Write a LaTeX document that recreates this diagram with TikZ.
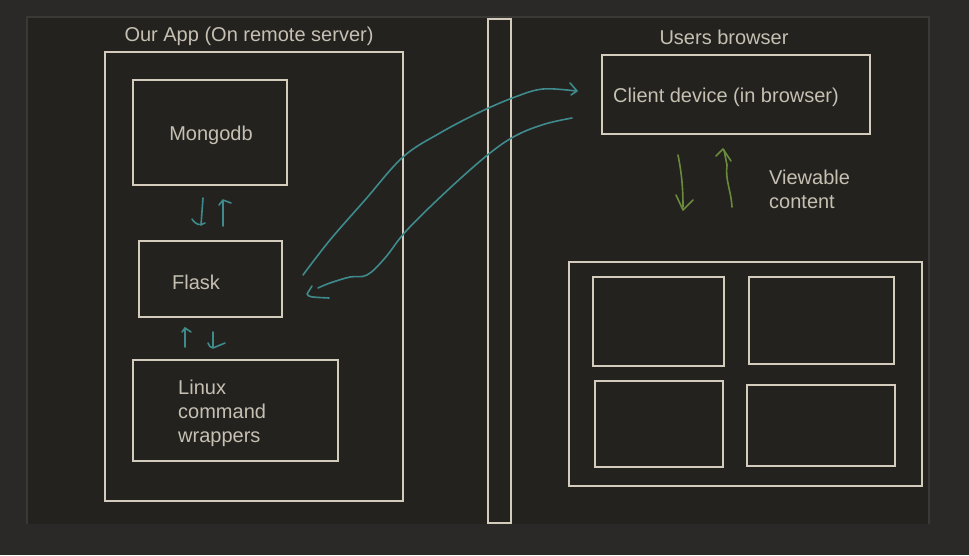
\documentclass[tikz,border=0pt]{standalone}
\usepackage{fontspec}
\setmainfont{Liberation Sans}
\definecolor{outerbg}{HTML}{2A2927}
\definecolor{panelbg}{HTML}{23221F}
\definecolor{panelline}{HTML}{3A3936}
\definecolor{boxline}{HTML}{D3CCBC}
\definecolor{txtc}{HTML}{C6C0B2}
\definecolor{tealc}{HTML}{3F8A8C}
\definecolor{olivec}{HTML}{6A8A3C}
\begin{document}
\begin{tikzpicture}[x=1pt,y=-1pt,
 box/.style={draw=boxline,line width=2.5pt,inner sep=0pt},
 lbl/.style={text=txtc,font=\fontsize{20}{24}\selectfont,inner sep=0pt},
 tealpen/.style={draw=tealc,line width=1.6pt,line cap=round,line join=round},
 greenpen/.style={draw=olivec,line width=1.6pt,line cap=round,line join=round}]
\fill[outerbg] (0,0) rectangle (969,555);
\useasboundingbox (0,0) rectangle (969,555);
\fill[panelbg] (27,17) rectangle (929,524);
\draw[panelline,line width=1.5pt] (27,524) -- (27,17) -- (929,17) -- (929,524);

% left side
\node[box,minimum width=298,minimum height=449] (app) at (254,276.5) {};
\node[lbl] (apptitle) at (249,36.5) {Our App (On remote server)};
\node[box,minimum width=154,minimum height=105] (mongo) at (210,132.5) {};
\node[lbl] (mongotxt) at (211,135) {Mongodb};
\node[box,minimum width=143,minimum height=76] (flask) at (210.5,279) {};
\node[lbl] (flasktxt) at (196,282.5) {Flask};
\node[box,minimum width=205,minimum height=101] (linux) at (235.5,410.5) {};
\node[lbl,anchor=west,align=left] (linuxtxt) at (178,413) {Linux\\command\\wrappers};

% separator bar
\node[box,minimum width=23,minimum height=504] (bar) at (499.5,271) {};

% right side
\node[lbl] (userstitle) at (724,37.5) {Users browser};
\node[box,minimum width=268,minimum height=79] (client) at (736,94.5) {};
\node[lbl] (clienttxt) at (726,97) {Client device (in browser)};
\node[lbl,anchor=west,align=left] (viewtxt) at (769,189) {Viewable\\content};
\node[box,minimum width=353,minimum height=224] (grid) at (745.5,374) {};
\node[box,minimum width=131,minimum height=89] (g1) at (658.5,321.5) {};
\node[box,minimum width=145,minimum height=87] (g2) at (821.5,320.5) {};
\node[box,minimum width=128,minimum height=86] (g3) at (659,424) {};
\node[box,minimum width=148,minimum height=81] (g4) at (821,425.5) {};

% teal long arrows
\draw[tealpen] plot[smooth,tension=0.6] coordinates {(303,275) (330,240) (365,200) (403,157) (440,133) (480,112) (515,97) (543,89) (576,91)};
\draw[tealpen] (570,83) -- (577,91) -- (571,95);
\draw[tealpen] plot[smooth,tension=0.6] coordinates {(572,118) (545,124) (517,135) (490,153) (450,188) (407,230) (385,258) (367,275) (350,277) (330,283) (318,288)};
\draw[tealpen] (312,286) -- (307,294) .. controls (309,297) .. (329,298);

% teal small arrows mongo/flask
\draw[tealpen] (203,198) -- (201,225);
\draw[tealpen] (192,219) .. controls (196,225) and (200,226) .. (205,223);
\draw[tealpen] (223,226) -- (223,201);
\draw[tealpen] (219,205) -- (223,200) -- (231,203);
% teal small arrows flask/linux
\draw[tealpen] (185,347) -- (185,328);
\draw[tealpen] (182,332) -- (185,328) -- (191,332);
\draw[tealpen] (213,332) -- (213,347);
\draw[tealpen] (208,343) .. controls (210,347) .. (213,348) -- (225,343);

% green arrows
\draw[greenpen] (678,155) .. controls (682,175) and (683,190) .. (683,207);
\draw[greenpen] (676,195) -- (683,210) -- (693,200);
\draw[greenpen] (732,207) .. controls (731,190) and (725,180) .. (727,165) -- (724,150);
\draw[greenpen] (716,156) -- (723,149) -- (731,161);
\end{tikzpicture}
\end{document}
